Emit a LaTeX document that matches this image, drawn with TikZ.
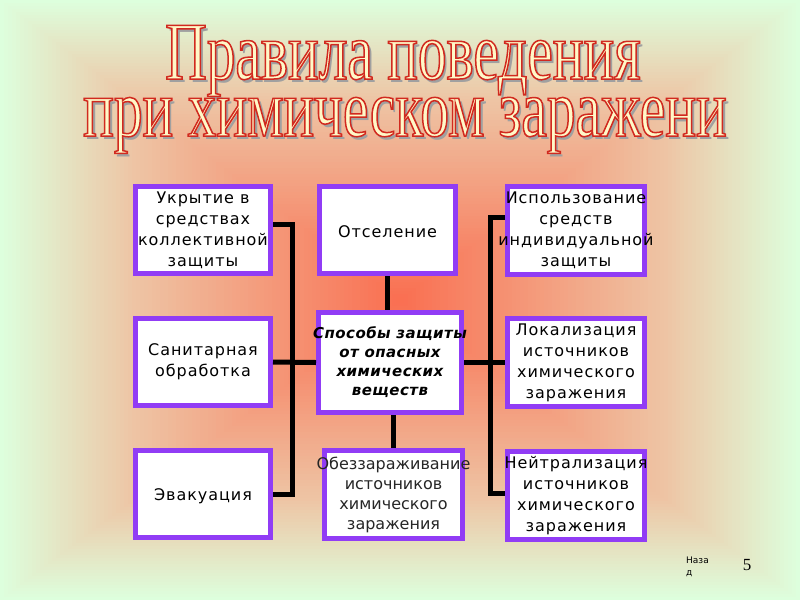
\documentclass[tikz,border=0pt]{standalone}
\usepackage{fontspec}
\setmainfont{DejaVu Sans}
\newfontfamily\boxfont[LetterSpace=6]{DejaVu Sans}
\newfontfamily\centerfont[LetterSpace=3]{DejaVu Sans}
\newfontfamily\lightfont{DejaVu Sans}
\newfontfamily\titlefont[FakeStretch=0.70]{Liberation Serif}
\newfontfamily\numfont{Liberation Serif}
\definecolor{bgedge}{RGB}{221,255,221}
\definecolor{bgmid}{RGB}{238,196,164}
\definecolor{bgcen}{RGB}{250,110,80}
\definecolor{framec}{RGB}{145,60,245}
\definecolor{titlefill}{RGB}{255,248,200}
\definecolor{shadowc}{RGB}{160,160,160}
\newcommand\outlinedtext[1]{\special{pdf:literal direct 2 Tr 1.5 w 0.82 0.16 0.12 RG}#1\special{pdf:literal direct 0 Tr}}
\newcommand\shadowedtitle[1]{\rlap{\kern3pt\raisebox{-3pt}{\color{shadowc}#1}}\outlinedtext{#1}}
\tikzset{
  box/.style={draw=framec, line width=5pt, fill=white, inner sep=0pt},
  boxtext/.style={align=center, inner sep=0pt, text=black,
    font=\boxfont\fontsize{16}{21}\selectfont},
  centertext/.style={align=center, inner sep=0pt, text=black,
    font=\centerfont\bfseries\itshape\fontsize{15}{19}\selectfont},
  lighttext/.style={align=center, inner sep=0pt, text=black!85,
    font=\lightfont\fontsize{16}{20}\selectfont},
  conn/.style={line width=5pt, black},
  ttl/.style={anchor=base, inner sep=0pt, text=titlefill, font=\titlefont\fontsize{82}{82}\selectfont}
}
\begin{document}
\begin{tikzpicture}[x=1pt,y=-1pt]
\useasboundingbox (0,0) rectangle (800,600);
% background: rectangular gradient
\foreach \i in {0,...,99}{%
  \ifnum\i<33
    \pgfmathtruncatemacro\p{\i*100/33}%
    \colorlet{bgc}{bgmid!\p!bgedge}%
  \else
    \pgfmathtruncatemacro\p{(\i-33)*100/67}%
    \colorlet{bgc}{bgcen!\p!bgmid}%
  \fi
  \fill[bgc] (\i*4,\i*3) rectangle (800-\i*4,600-\i*3);
}
% title
\node[ttl, text height=57pt, text depth=0pt] (t1) at (403,79) {\shadowedtitle{Правила поведения}};
\node[ttl, text height=38pt, text depth=16pt] (t2) at (405,136) {\shadowedtitle{при химическом заражени}};
% boxes
\node[box, minimum width=135pt, minimum height=87pt] (u) at (203,230) {};
\node[box, minimum width=136pt, minimum height=87pt] (ot) at (387.5,230) {};
\node[box, minimum width=137pt, minimum height=88pt] (isp) at (576,230.5) {};
\node[box, minimum width=135pt, minimum height=87pt] (san) at (203,362) {};
\node[box, minimum width=143pt, minimum height=100pt] (c) at (390,362.5) {};
\node[box, minimum width=137pt, minimum height=88pt] (lok) at (576,362.5) {};
\node[box, minimum width=135pt, minimum height=87pt] (ev) at (203,494) {};
\node[box, minimum width=138pt, minimum height=88pt] (ob) at (393.5,494.5) {};
\node[box, minimum width=137pt, minimum height=88pt] (ne) at (576,495.5) {};
% connectors
\coordinate (lb) at (292,362);
\coordinate (rb) at (490,362);
\draw[conn] ([yshift=6pt]u.east) -| (lb) |- (ev.east);
\draw[conn] (san.east) -- (c.west);
\draw[conn] (ot.south) -- (ot.south |- c.north);
\draw[conn] (ob.north) -- (ob.north |- c.south);
\draw[conn] ([yshift=13.5pt]isp.west) -| (rb) |- ([yshift=2.5pt]ne.west);
\draw[conn] (c.east) -- (lok.west);
% texts
\node[boxtext] (ut) at (u) {Укрытие в\\средствах\\коллективной\\защиты};
\node[boxtext] (ott) at ([yshift=-2pt]ot.center) {Отселение};
\node[boxtext] (ispt) at (isp) {Использование\\средств\\индивидуальной\\защиты};
\node[boxtext] (sant) at (san) {Санитарная\\обработка};
\node[centertext] (ct) at (c) {Способы защиты\\от опасных\\химических\\веществ};
\node[boxtext] (lokt) at (lok) {Локализация\\источников\\химического\\заражения};
\node[boxtext] (evt) at ([yshift=-2pt]ev.center) {Эвакуация};
\node[lighttext] (obt) at (ob) {Обеззараживание\\источников\\химического\\заражения};
\node[boxtext] (net) at (ne) {Нейтрализация\\источников\\химического\\заражения};
% footer
\node[anchor=north west, inner sep=0pt, align=left, font=\fontsize{9}{12}\selectfont] (back) at (686,557) {Наза\\д};
\node[anchor=base, inner sep=0pt, font=\numfont\fontsize{17}{17}\selectfont] (pg) at (747,570) {5};
\end{tikzpicture}
\end{document}
